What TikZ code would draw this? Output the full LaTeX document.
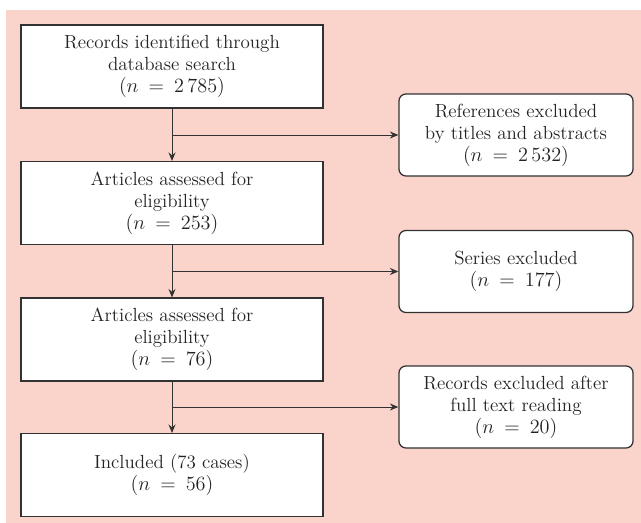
\documentclass[tikz,border=0pt]{standalone}
\usetikzlibrary{arrows.meta}
\definecolor{bgpink}{RGB}{250,212,202}
\definecolor{linegray}{RGB}{50,50,50}
\definecolor{textgray}{RGB}{35,35,35}
\begin{document}
\begin{tikzpicture}[x=0.025cm,y=-0.025cm,
	box/.style={draw=linegray,line width=0.9pt,fill=white,minimum width=7.55cm,minimum height=2.07cm,align=center,text=textgray,font=\fontsize{13.5}{15.6}\selectfont,execute at begin node={\thickmuskip=9mu}},
	exbox/.style={box,rounded corners=5pt,minimum width=5.85cm,minimum height=2.05cm},
	flow/.style={draw=linegray,line width=0.7pt,-{Stealth[length=6pt,width=5pt]}}]
		\useasboundingbox (0,0) rectangle (641,523);
		\fill[bgpink] (6,10) rectangle (641,523);
		\node[box] (rec) at (172,66.5) {Records identified through\\database search\\$(n = 2\,785)$};
		\node[box] (art1) at (172,203) {Articles assessed for\\eligibility\\$(n = 253)$};
		\node[box] (art2) at (172,339.5) {Articles assessed for\\eligibility\\$(n = 76)$};
		\node[box] (inc) at (172,475) {Included (73 cases)\\$(n = 56)$};
		\node[exbox] (refex) at (516,135) {References excluded\\by titles and abstracts\\$(n = 2\,532)$};
		\node[exbox] (serex) at (516,271.5) {Series excluded\\$(n = 177)$};
		\node[exbox] (fullex) at (516,407) {Records excluded after\\full text reading\\$(n = 20)$};
		\draw[flow] (rec) -- (art1);
		\draw[flow] (art1) -- (art2);
		\draw[flow] (art2) -- (inc);
		\draw[flow] (rec.south |- refex.west) -- (refex.west);
		\draw[flow] (art1.south |- serex.west) -- (serex.west);
		\draw[flow] (art2.south |- fullex.west) -- (fullex.west);
	\end{tikzpicture}
\end{document}
